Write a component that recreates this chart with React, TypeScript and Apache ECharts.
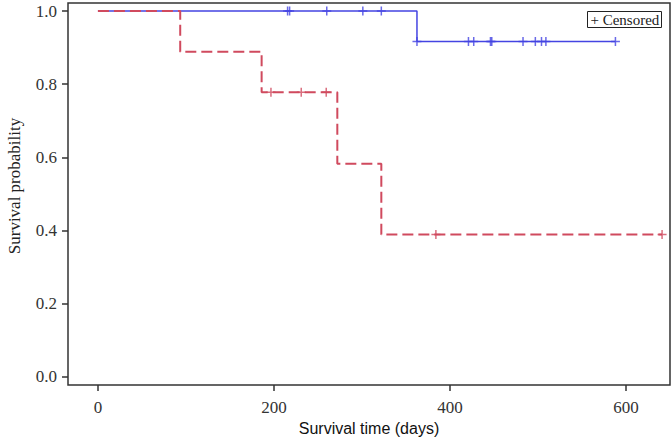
import React, { useEffect, useRef } from "react";
import * as echarts from "echarts";

// Kaplan-Meier step data (days, survival probability)
const blueTimes = [0, 362.5, 588];
const blueSurv = [1.0, 0.917, 0.917];
const blueCensorTimes = [215.5, 217.8, 260, 301, 322, 362.5, 421, 427, 446, 447.5, 483, 497, 504, 509, 588];
const blueCensorSurv = [1, 1, 1, 1, 1, 0.917, 0.917, 0.917, 0.917, 0.917, 0.917, 0.917, 0.917, 0.917, 0.917];

const redTimes = [0, 93.5, 186, 272, 322, 641];
const redSurv = [1.0, 0.889, 0.778, 0.583, 0.389, 0.389];
const redCensorTimes = [196.6, 231, 259.4, 384, 641];
const redCensorSurv = [0.778, 0.778, 0.778, 0.389, 0.389];

const xTicks = [0, 200, 400, 600];
const yTicks = [0, 0.2, 0.4, 0.6, 0.8, 1.0];

const BLUE = "#4444E2";
const RED = "#D04A5E";
const PLUS = "path://M5,0 L5,10 M0,5 L10,5";

const zip = (a: number[], b: number[]) => a.map((v, i) => [v, b[i]]);

export default function App() {
  const ref = useRef<HTMLDivElement>(null);
  useEffect(() => {
    document.body.style.margin = "0";
    if (!ref.current) return;
    const chart = echarts.init(ref.current, null, { renderer: "svg" });
    const serif = "Liberation Serif";
    chart.setOption({
      animation: false,
      grid: {
        left: 68,
        right: 2,
        top: 3,
        bottom: 55,
        show: true,
        borderColor: "#333",
        borderWidth: 1.5,
        outerBoundsMode: "none",
      },
      xAxis: {
        type: "value",
        min: -34,
        max: 650,
        splitLine: { show: false },
        axisLine: { show: false, onZero: false },
        axisTick: { show: true, length: 6, customValues: xTicks, lineStyle: { color: "#333", width: 1.5 } },
        axisLabel: {
          customValues: xTicks,
          margin: 14,
          color: "#333",
          fontFamily: serif,
          fontSize: 17,
        },
        name: "Survival time (days)",
        nameLocation: "middle",
        nameGap: 23,
        nameTextStyle: { color: "#111", fontFamily: "Liberation Sans", fontSize: 16, verticalAlign: "top" },
      },
      yAxis: {
        type: "value",
        min: -0.022,
        max: 1.022,
        splitLine: { show: false },
        axisLine: { show: false, onZero: false },
        axisTick: { show: true, length: 6, customValues: yTicks, lineStyle: { color: "#333", width: 1.5 } },
        axisLabel: {
          customValues: yTicks,
          margin: 11,
          color: "#333",
          fontFamily: serif,
          fontSize: 17,
          formatter: (v: number) => v.toFixed(1),
        },
      },
      graphic: [
        {
          type: "text",
          x: 14,
          y: 186,
          rotation: Math.PI / 2,
          style: {
            text: "Survival probability",
            font: "17px 'Liberation Serif'",
            fill: "#222",
            align: "center",
            verticalAlign: "middle",
          },
        },
        {
          type: "rect",
          shape: { x: 587.5, y: 11.5, width: 74, height: 16 },
          style: { fill: "#fff", stroke: "#222", lineWidth: 1 },
          z: 10,
        },
        {
          type: "text",
          x: 590.5,
          y: 19.5,
          style: {
            text: "+ Censored",
            font: "15px 'Liberation Serif'",
            fill: "#222",
            align: "left",
            verticalAlign: "middle",
          },
          z: 11,
        },
      ],
      series: [
        {
          type: "line",
          step: "end",
          data: zip(blueTimes, blueSurv),
          showSymbol: false,
          lineStyle: { color: BLUE, width: 1.5 },
          z: 2,
        },
        {
          type: "line",
          step: "end",
          data: zip(redTimes, redSurv),
          showSymbol: false,
          lineStyle: { color: RED, width: 2, type: [11, 5] },
          z: 3,
        },
        {
          type: "scatter",
          data: zip(blueCensorTimes, blueCensorSurv),
          symbol: PLUS,
          symbolSize: 9,
          itemStyle: { color: "none", borderColor: BLUE, borderWidth: 1.5 },
          z: 4,
        },
        {
          type: "scatter",
          data: zip(redCensorTimes, redCensorSurv),
          symbol: PLUS,
          symbolSize: 9,
          itemStyle: { color: "none", borderColor: RED, borderWidth: 1.5 },
          z: 4,
        },
      ],
    });
    return () => chart.dispose();
  }, []);
  return <div ref={ref} style={{ width: 672, height: 440 }} />;
}
